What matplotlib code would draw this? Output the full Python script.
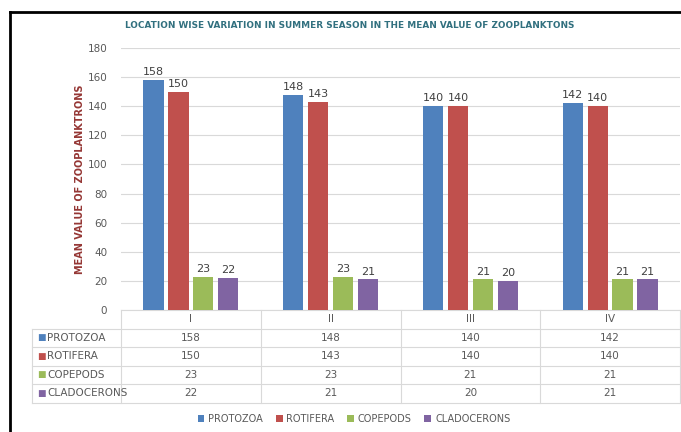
import matplotlib
matplotlib.use("Agg")
import numpy as np
import matplotlib.pyplot as plt
from matplotlib.lines import Line2D
from matplotlib.patches import Patch
import matplotlib.transforms as mtransforms

locations = ["I", "II", "III", "IV"]
series_names = ["PROTOZOA", "ROTIFERA", "COPEPODS", "CLADOCERONS"]
protozoa = [158, 148, 140, 142]
rotifera = [150, 143, 140, 140]
copepods = [23, 23, 21, 21]
cladocerons = [22, 21, 20, 21]
series_values = [protozoa, rotifera, copepods, cladocerons]
colors = ["#4F81BD", "#C0504D", "#9BBB59", "#8064A2"]

W, H = 681, 432
fig = plt.figure(figsize=(W / 100, H / 100), dpi=100)
ax = fig.add_axes([121 / W, (H - 310) / H, (680 - 121) / W, (310 - 48) / H])

text_col = "#595959"
grid_col = "#D9D9D9"

x = np.arange(len(locations))
bw = 0.145
step = 0.178
for i, (vals, c) in enumerate(zip(series_values, colors)):
    pos = x + (i - 1.5) * step
    ax.bar(pos, vals, width=bw, color=c, zorder=3)
    for p, v in zip(pos, vals):
        ax.text(p, v + 2, str(v), ha="center", va="bottom", fontsize=8, color="#404040")

ax.set_xlim(-0.5, len(locations) - 0.5)
ax.set_ylim(0, 180)
ax.set_yticks(np.arange(0, 181, 20))
ax.tick_params(axis="y", length=0, pad=10, labelsize=7.5, labelcolor=text_col)
ax.set_xticks([])
ax.grid(axis="y", color=grid_col, linewidth=0.8, zorder=0)
for s in ax.spines.values():
    s.set_visible(False)

ax.set_ylabel("MEAN VALUE OF ZOOPLANKTRONS", fontsize=7, fontweight="bold",
              color="#953735", labelpad=2)
fig.text(350 / W, 1 - 25 / H, "LOCATION WISE VARIATION IN SUMMER SEASON IN THE MEAN VALUE OF ZOOPLANKTONS",
         ha="center", va="center", fontsize=6.4, fontweight="bold", color="#31707F")

# data table below the plot
trans = mtransforms.blended_transform_factory(ax.transData, ax.transAxes)
ax_h_px = 310 - 48
row_h = 18.5 / ax_h_px
label_left = -0.5 - (121 - 32) / 139.75
right = len(locations) - 0.5
n_rows = len(series_names) + 1
bottom = -n_rows * row_h
lkw = dict(color=grid_col, linewidth=0.8, transform=trans, clip_on=False)
ax.add_line(Line2D([-0.5, right], [0, 0], **lkw))
for r in range(1, n_rows + 1):
    ax.add_line(Line2D([label_left, right], [-r * row_h] * 2, **lkw))
ax.add_line(Line2D([label_left, label_left], [-row_h, bottom], **lkw))
for k in range(len(locations) + 1):
    ax.add_line(Line2D([k - 0.5, k - 0.5], [0, bottom], **lkw))

tkw = dict(fontsize=7.5, color=text_col, transform=trans, clip_on=False, va="center")
for k, loc in enumerate(locations):
    ax.text(k, -0.5 * row_h, loc, ha="center", **tkw)
for r, (name, vals, c) in enumerate(zip(series_names, series_values, colors)):
    yy = -(r + 1.5) * row_h
    ax.text(label_left + 0.04, yy, "\u25A0", ha="left", fontsize=6.5, color=c,
            transform=trans, clip_on=False, va="center")
    ax.text(label_left + 0.11, yy, name, ha="left", **tkw)
    for k, v in enumerate(vals):
        ax.text(k, yy, str(v), ha="center", **tkw)

handles = [Patch(facecolor=c, edgecolor="none") for c in colors]
fig.legend(handles, series_names, loc="center", bbox_to_anchor=(354 / W, 1 - 419 / H),
           ncol=4, frameon=False, fontsize=7, labelcolor=text_col,
           handlelength=0.7, handleheight=0.7, handletextpad=0.4, columnspacing=1.3)

# outer frame
fig.add_artist(Line2D([10 / W, 1.0], [1 - 12 / H] * 2, color="black", linewidth=2,
                      transform=fig.transFigure))
fig.add_artist(Line2D([10 / W, 10 / W], [0, 1 - 12 / H], color="black", linewidth=2,
                      transform=fig.transFigure))

fig.savefig("out.png", dpi=100)
